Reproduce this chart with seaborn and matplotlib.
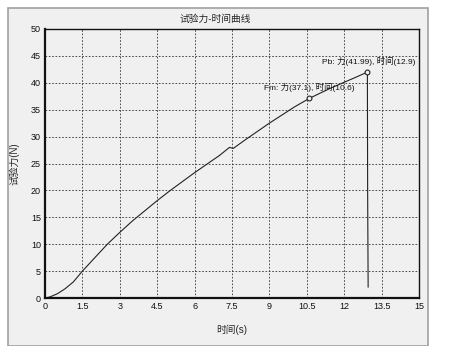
import matplotlib
matplotlib.use("Agg")
import matplotlib.pyplot as plt
import seaborn as sns
import pandas as pd
from matplotlib.patches import Rectangle
from matplotlib.ticker import MultipleLocator

# Data
time_s = [0, 0.2, 0.5, 0.8, 1.14, 1.5, 2.0, 2.5, 3.0, 3.5, 4.0, 4.5, 5.0, 5.5, 6.0, 6.5,
          7.0, 7.4, 7.55, 7.7, 8.0, 8.5, 9.0, 9.5, 10.0, 10.6, 11.0, 11.5, 12.0, 12.5,
          12.93, 12.94, 12.96]
force_n = [0, 0.2, 0.8, 1.7, 3.0, 5.0, 7.5, 10.0, 12.2, 14.3, 16.2, 18.1, 19.9, 21.6, 23.3, 24.9,
           26.5, 28.0, 27.8, 28.3, 29.3, 30.9, 32.5, 34.0, 35.5, 37.1, 38.0, 39.1, 40.1, 41.1,
           41.99, 20.0, 2.0]
pt_names = ["Fm", "Pb"]
pt_time = [10.6, 12.9]
pt_force = [37.1, 41.99]
pt_labels = ["Fm: 力(37.1), 时间(10.6)", "Pb: 力(41.99), 时间(12.9)"]
x_ticks = [0, 1.5, 3, 4.5, 6, 7.5, 9, 10.5, 12, 13.5, 15]
x_tick_labels = ["0", "1.5", "3", "4.5", "6", "7.5", "9", "10.5", "12", "13.5", "15"]
y_ticks = [0, 5, 10, 15, 20, 25, 30, 35, 40, 45, 50]

sns.set_style("white")
plt.rcParams["font.family"] = ["Liberation Sans", "Noto Sans CJK SC"]

W, H = 458, 346
fig = plt.figure(figsize=(W / 100, H / 100), dpi=100, facecolor="white")
panel = Rectangle((8 / W, 0), (428 - 8) / W, (346 - 8) / H, transform=fig.transFigure,
                  facecolor="#f0f0f0", edgecolor="#a0a0a0", linewidth=1.2, zorder=-10)
fig.patches.append(panel)

ax = fig.add_axes([45 / W, 1 - 298 / H, (419 - 45) / W, (298 - 29) / H])
ax.set_zorder(5)
ax.set_facecolor("#f0f0f0")

df = pd.DataFrame({"time": time_s, "force": force_n})
sns.lineplot(data=df, x="time", y="force", sort=False, estimator=None,
             color="#222222", linewidth=0.8, ax=ax)
pts = pd.DataFrame({"time": pt_time, "force": pt_force, "name": pt_names})
ax.scatter(pts["time"], pts["force"], s=12, facecolors="#f0f0f0",
           edgecolors="#222222", linewidths=0.8, zorder=5)

ax.text(10.6 - 1.8, 37.1 + 1.5, pt_labels[0], fontsize=6, color="#111111")
ax.text(12.9 - 1.8, 41.99 + 1.5, pt_labels[1], fontsize=6, color="#111111")

ax.set_xlim(0, 15)
ax.set_ylim(0, 50)
ax.set_xticks(x_ticks)
ax.set_xticklabels(x_tick_labels)
ax.set_yticks(y_ticks)
ax.xaxis.set_minor_locator(MultipleLocator(0.5))
ax.tick_params(axis="both", which="both", direction="in", labelsize=6.5,
               colors="#111111", pad=3)
ax.tick_params(axis="both", which="major", length=3, width=0.8)
ax.tick_params(axis="x", which="minor", length=2, width=0.8)
ax.grid(True, which="major", color="#333333", linestyle=(0, (2, 2)), linewidth=0.6)

for side, lw in [("left", 1.6), ("bottom", 1.6), ("top", 1.0), ("right", 1.0)]:
    ax.spines[side].set_visible(True)
    ax.spines[side].set_color("#111111")
    ax.spines[side].set_linewidth(lw)

ax.set_xlabel("时间(s)", fontsize=7, labelpad=10)
ax.set_ylabel("试验力(N)", fontsize=7, labelpad=8)
fig.text(215 / W, 1 - 19 / H, "试验力-时间曲线", ha="center", va="center", fontsize=7)

fig.savefig("out.png", dpi=100, facecolor="white")
